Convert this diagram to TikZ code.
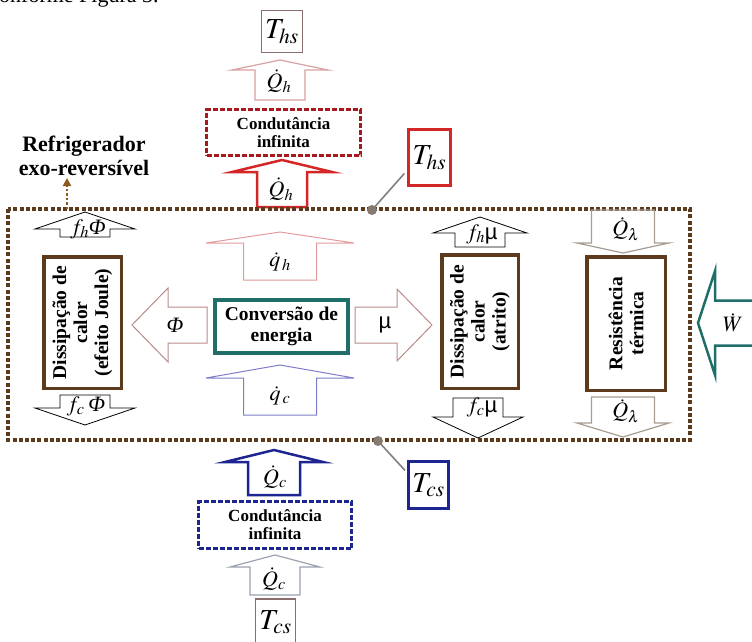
\documentclass[tikz,border=0pt]{standalone}
\usepackage{mathptmx}
\usepackage{fontspec}
\setmainfont{Liberation Serif}
\setsansfont{Liberation Sans}
\usetikzlibrary{positioning,arrows.meta}

\definecolor{brn}{HTML}{5B3A1E}
\definecolor{dotbr}{HTML}{8B5A1E}
\definecolor{tealc}{HTML}{1F6E68}
\definecolor{redbox}{HTML}{D42626}
\definecolor{redd}{HTML}{A8181C}
\definecolor{pinkl}{HTML}{D9A0A0}
\definecolor{bluebox}{HTML}{1C2590}
\definecolor{greyb}{HTML}{9AA0B0}
\definecolor{qcc}{HTML}{7C7CC8}
\definecolor{qhc}{HTML}{E39A9A}
\definecolor{phic}{HTML}{B88A8A}
\definecolor{lamc}{HTML}{A69C90}
\definecolor{thinc}{HTML}{8A6E6E}
\definecolor{dotg}{HTML}{857A6E}

% block arrows: style, centre, tail, head base, tip, half shaft, half head
\newcommand{\blkvert}[7]{%
  \draw[#1] (#2-#6,#3) -- (#2-#6,#4) -- (#2-#7,#4) -- (#2,#5)
    -- (#2+#7,#4) -- (#2+#6,#4) -- (#2+#6,#3) -- cycle;}
\newcommand{\blkhorz}[7]{%
  \draw[#1] (#3,#2-#6) -- (#4,#2-#6) -- (#4,#2-#7) -- (#5,#2)
    -- (#4,#2+#7) -- (#4,#2+#6) -- (#3,#2+#6) -- cycle;}
\newcommand{\phisym}{{\itshape Φ}}

\begin{document}
\begin{tikzpicture}[x=1pt,y=-1pt,
    box/.style={draw=brn, line width=3.5pt, inner sep=0pt, align=center,
      font=\bfseries\fontsize{19.5}{21}\selectfont},
    condbox/.style={line width=3pt, dash pattern=on 5pt off 2pt, inner sep=0pt,
      align=center, font=\bfseries\fontsize{17}{18}\selectfont},
    tbox/.style={inner sep=0pt, font=\fontsize{29}{30}\selectfont},
    lbl/.style={inner sep=0pt, font=\fontsize{22}{23}\selectfont}]
	\useasboundingbox (0,0) rectangle (752,642);
	\node[anchor=base west, inner sep=0pt, font=\fontsize{22}{24}\selectfont] (cap) at (-1,3) {onforme Figura 3.};
	
	% hot side
	\node[tbox, draw=thinc, line width=1.2pt, minimum width=41pt, minimum height=42pt] (thtop) at (282,31.5) {$T_{hs}$};
	\blkvert{pinkl, line width=1.2pt}{280}{100}{70}{60}{25}{48}
	\node[lbl] (qhtop) at (279,81) {$\dot{Q}_h$};
	\node[condbox, draw=redd, minimum width=154pt, minimum height=46pt] (condh) at (283.5,132.5) {Condutância\\infinita};
	\blkvert{redbox, line width=2.5pt}{282}{207}{172}{160}{25}{50}
	\node[lbl] (qhred) at (281,189) {$\dot{Q}_h$};
	\node[tbox, draw=redbox, line width=3pt, minimum width=42pt, minimum height=56pt] (ths) at (429.5,157.5) {$T_{hs}$};
	
	% system boundary
	\draw[brn, line width=3.5pt, dash pattern=on 4pt off 2.2pt] (8,209) rectangle (690,440);
	\coordinate (ph) at (372,210);
	\coordinate (pc) at (378,441);
	\draw[gray, line width=1.6pt, shorten >=4pt] (ph) -- (ths.210);
	\fill[dotg] (ph) circle (5pt);
	
	\node[align=center, inner sep=0pt, font=\bfseries\fontsize{22}{24}\selectfont] (refri) at (84,156) {Refrigerador\\exo-reversível};
	\coordinate (rb) at (67,209);
	\draw[dotbr, line width=2.5pt, dotted, -{Triangle[width=8pt,length=8pt]}] (rb) -- (67,178);
	
	% inner blocks
	\node[box, rotate=90, minimum width=131.5pt, minimum height=77.5pt] (joule) at (82.5,322.5) {Dissipação de\\calor\\(efeito Joule)};
	\node[box, draw=tealc, line width=4pt, minimum width=133pt, minimum height=53pt] (conv) at (281.5,326.5) {Conversão de\\energia};
	\node[box, rotate=90, minimum width=133.5pt, minimum height=76.5pt] (atrito) at (480,321.5) {Dissipação de\\calor\\(atrito)};
	\node[box, rotate=90, minimum width=133.5pt, minimum height=78.5pt] (resist) at (626,323.5) {Resistência\\térmica};
	
	\blkvert{qhc, line width=1pt}{280}{280}{243}{232}{36.5}{74}
	\node[lbl] (qh) at (280,262) {$\dot{q}_{\,h}$};
	\blkvert{qcc, line width=1pt}{280}{415}{378}{365}{36.5}{74}
	\node[lbl] (qc) at (280,396) {$\dot{q}_{\,c}$};
	\blkhorz{phic, line width=1pt}{325}{207}{168}{132}{18}{37}
	\node[lbl] (phi) at (175,325) {\phisym};
	\blkhorz{phic, line width=1pt}{325}{355}{397}{432}{18}{36}
	\node[lbl] (mu) at (385,325) {\textsf{µ}};
	
	\blkvert{black, line width=.8pt}{85}{237}{229}{212}{25}{50}
	\node[lbl] (fhphi) at (88,229) {$f_h$\phisym};
	\blkvert{black, line width=.8pt}{85}{395}{408}{425}{25}{50}
	\node[lbl] (fcphi) at (86,406) {$f_c$\,\phisym};
	\blkvert{black, line width=.8pt}{480}{247}{233}{217}{25}{47}
	\node[lbl] (fhmu) at (482,234) {$f_h$\textsf{µ}};
	\blkvert{black, line width=.8pt}{478}{398}{417}{438}{25}{45}
	\node[lbl] (fcmu) at (482,407) {$f_c$\textsf{µ}};
	
	\blkvert{lamc, line width=1.2pt}{623}{210}{243}{253}{31.5}{46}
	\node[lbl] (qltop) at (626,229) {$\dot{Q}_\lambda$};
	\blkvert{lamc, line width=1.2pt}{623}{397}{423}{437}{31.5}{46}
	\node[lbl] (qlbot) at (626,411) {$\dot{Q}_\lambda$};
	
	\blkhorz{tealc, line width=2.5pt}{323}{760}{715}{698}{22.5}{52}
	\node[lbl] (w) at (733,323) {$\dot{W}$};
	
	% cold side
	\node[tbox, draw=bluebox, line width=3pt, minimum width=40pt, minimum height=47pt] (tcs) at (428.5,485) {$T_{cs}$};
	\draw[gray, line width=1.6pt, shorten >=3pt] (pc) -- (tcs.150);
	\fill[dotg] (pc) circle (5pt);
	\blkvert{bluebox, line width=2.5pt}{274}{495}{462}{450}{26}{49}
	\node[lbl] (qcblue) at (275,477) {$\dot{Q}_c$};
	\node[condbox, draw=bluebox, minimum width=153pt, minimum height=47pt] (condc) at (275,525) {Condutância\\infinita};
	\blkvert{greyb, line width=1.2pt}{275}{595}{567}{555}{25}{45}
	\node[lbl] (qcgrey) at (274,579) {$\dot{Q}_c$};
	\node[tbox, draw=thinc, line width=1.2pt, minimum width=40pt, minimum height=46pt] (tcsbot) at (275.5,622) {$T_{cs}$};
\end{tikzpicture}
\end{document}
